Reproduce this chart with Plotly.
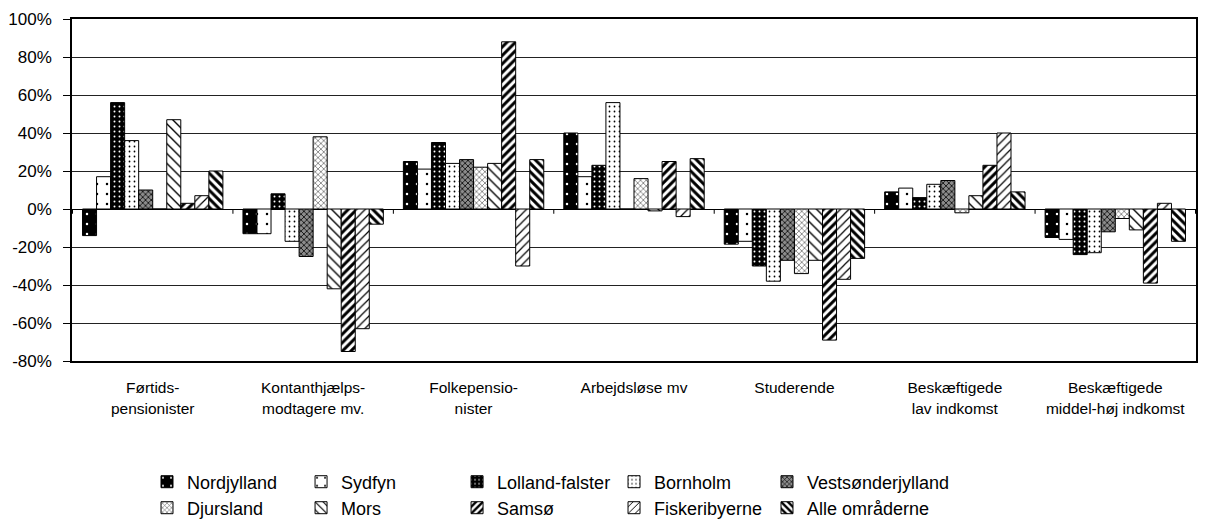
import plotly.graph_objects as go

# ================= DATA =================
categories = [
    "Førtids-<br>pensionister",
    "Kontanthjælps-<br>modtagere mv.",
    "Folkepensio-<br>nister",
    "Arbejdsløse mv",
    "Studerende",
    "Beskæftigede<br>lav indkomst",
    "Beskæftigede<br>middel-høj indkomst",
]

nordjylland = [-14, -13, 25, 40, -18.5, 9, -15]
sydfyn = [17, -13, 21, 17, -17, 11, -16]
lolland_falster = [56, 8, 35, 23, -30, 6, -24]
bornholm = [36, -17, 24, 56, -38, 13, -23]
vestsonderjylland = [10, -25, 26, 0, -27, 15, -12]
djursland = [0, 38, 22, 16, -34, -2, -5]
mors = [47, -42, 24, -1, -27, 7, -11]
samso = [3, -75, 88, 25, -69, 23, -39]
fiskeribyerne = [7, -63, -30, -4, -37, 40, 3]
alle_omraader = [20, -8, 26, 26.5, -26, 9, -17]

tick_values = [100, 80, 60, 40, 20, 0, -20, -40, -60, -80]
tick_labels = [f"{v}%" for v in tick_values]

# name, values, bg, fg, shape, size, solidity
series = [
    ("Nordjylland", nordjylland, "black", "white", ".", 10, 0.05),
    ("Sydfyn", sydfyn, "white", "black", ".", 10, 0.05),
    ("Lolland-falster", lolland_falster, "black", "white", ".", 5, 0.12),
    ("Bornholm", bornholm, "white", "black", ".", 5, 0.1),
    ("Vestsønderjylland", vestsonderjylland, "#8c8c8c", "black", "x", 4, 0.35),
    ("Djursland", djursland, "white", "#555555", "x", 4, 0.3),
    ("Mors", mors, "white", "black", "\\", 7, 0.2),
    ("Samsø", samso, "white", "black", "/", 6, 0.5),
    ("Fiskeribyerne", fiskeribyerne, "white", "black", "/", 6, 0.2),
    ("Alle områderne", alle_omraader, "white", "black", "\\", 6, 0.5),
]

FONT = "Arial, Liberation Sans, sans-serif"

fig = go.Figure()

# ================= BARS =================
for k, (name, vals, bg, fg, shape, size, solid) in enumerate(series):
    fig.add_trace(go.Bar(
        x=categories,
        y=vals,
        name=name,
        legend="legend" if k == 0 else f"legend{k + 1}",
        marker=dict(
            color=bg,
            line=dict(color="black", width=1),
            pattern=dict(shape=shape, bgcolor=bg, fgcolor=fg,
                         size=size, solidity=solid, fillmode="replace"),
        ),
    ))

# ================= CATEGORY TICKS ON ZERO LINE =================
for i in range(len(categories) + 1):
    fig.add_shape(type="line", xref="x", yref="y",
                  x0=i - 0.5, x1=i - 0.5, y0=0, y1=-2.5,
                  line=dict(color="black", width=1))

# ================= LEGENDS (5 columns x 2 rows) =================
# page is offset by the 8px body margin, positions below compensate
col_x = [0.1145, 0.2414, 0.3699, 0.4992, 0.6252]
row_y = [0.0902, 0.0403]
legends = {}
for k in range(len(series)):
    key = "legend" if k == 0 else f"legend{k + 1}"
    legends[key] = dict(
        x=col_x[k % 5], y=row_y[k // 5],
        xref="container", yref="container",
        xanchor="left", yanchor="middle",
        bgcolor="rgba(0,0,0,0)", itemwidth=30,
        font=dict(family=FONT, size=18, color="black"),
    )

# ================= LAYOUT =================
fig.update_layout(
    width=1214,
    height=521,
    margin=dict(l=64, r=26, t=11, b=168, autoexpand=False),
    paper_bgcolor="white",
    plot_bgcolor="white",
    barmode="group",
    bargap=0.125,
    bargroupgap=0,
    font=dict(family=FONT, size=15.5, color="black"),
    showlegend=True,
    **legends,
)

fig.update_xaxes(
    showgrid=False, automargin=False,
    showline=True, linecolor="black", linewidth=1.5, mirror=True,
    ticks="", ticklabelstandoff=12,
    tickfont=dict(family=FONT, size=15.5, color="black"),
)

fig.update_yaxes(
    range=[-80, 100], automargin=False,
    tickvals=tick_values,
    ticktext=tick_labels,
    showgrid=True, gridcolor="#222222", gridwidth=1,
    zeroline=True, zerolinecolor="black", zerolinewidth=1,
    showline=True, linecolor="black", linewidth=1.5, mirror=True,
    ticks="outside", ticklen=7, tickcolor="black",
    ticklabelstandoff=8,
    tickfont=dict(family=FONT, size=17, color="black"),
)

fig.write_html("out.html")
